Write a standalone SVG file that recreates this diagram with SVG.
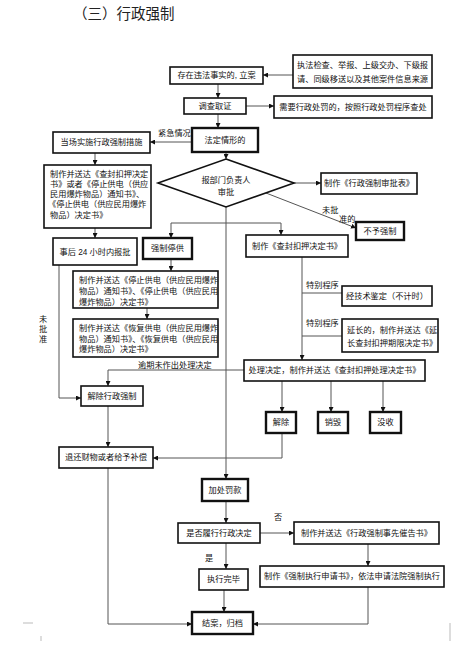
<svg xmlns="http://www.w3.org/2000/svg" width="453" height="658" viewBox="0 0 453 658">
<style>
text{font-family:"Liberation Sans","Noto Sans CJK SC",sans-serif;font-size:8.2px;fill:#111}
.t{font-size:14.5px;fill:#222}
.c{text-anchor:middle;dominant-baseline:central}
.l{dominant-baseline:central}
.b{fill:#fff;stroke:#111;stroke-width:1.6}
.k{fill:#fff;stroke:#111;stroke-width:2.4}
.e{fill:none;stroke:#555;stroke-width:1}
.a{marker-end:url(#ah)}
.m{stroke:#bbb;stroke-width:1}
</style>
<defs>
<marker id="ah" viewBox="0 0 6 6" refX="6" refY="3" markerWidth="5" markerHeight="5" markerUnits="userSpaceOnUse" orient="auto"><path d="M0,0 L6,3 L0,6 z" fill="#111"/></marker>
</defs>
<rect width="453" height="658" fill="#fff"/>
<text class="t" x="73" y="19">（三）行政强制</text>

<g id="connectors">
<path class="e a" d="M293,75 H263"/>
<path class="e a" d="M218,84 V98"/>
<path class="e a" d="M246,106 H274"/>
<path class="e a" d="M218,114 V128"/>
<path class="e a" d="M192,142 H150"/>
<path class="e a" d="M95,153 V165"/>
<path class="e a" d="M226,152 V159"/>
<path class="e a" d="M294,183 H321"/>
<path class="e a" d="M266,193 L356,228"/>
<path class="e a" d="M226,207 V479"/>
<path class="e" d="M171,223 H281"/>
<path class="e a" d="M171,223 V238"/>
<path class="e a" d="M281,223 V235"/>
<path class="e a" d="M95,228 V238"/>
<path class="e a" d="M171,259 V271"/>
<path class="e a" d="M147,308 V319"/>
<path class="e a" d="M59,265 V398 H81"/>
<path class="e a" d="M302,257 V360"/>
<path class="e" d="M302,293 H342"/>
<path class="e" d="M302,336 H342"/>
<path class="e a" d="M244,370 H108 V386"/>
<path class="e a" d="M282,381 V412"/>
<path class="e a" d="M331,381 V412"/>
<path class="e a" d="M383,381 V412"/>
<path class="e a" d="M282,433 V458 H153"/>
<path class="e a" d="M108,406 V447"/>
<path class="e a" d="M108,468 V624 H192"/>
<path class="e a" d="M226,501 V523"/>
<path class="e a" d="M260,533 H294"/>
<path class="e a" d="M226,543 V569"/>
<path class="e a" d="M368,544 V566"/>
<path class="e a" d="M224,590 V612"/>
<path class="e a" d="M368,587 V624 H253"/>
</g>

<g id="labels">
<text x="158" y="136">紧急情况</text>
<text x="322" y="213">未批</text>
<text x="339" y="222">准的</text>
<text class="c" x="43" y="319">未</text>
<text class="c" x="43" y="329">批</text>
<text class="c" x="43" y="339">准</text>
<text x="306" y="288">特别程序</text>
<text x="306" y="326">特别程序</text>
<text x="138" y="368">逾期未作出处理决定</text>
<text x="274" y="520">否</text>
<text x="205" y="561">是</text>
</g>

<g id="n-lian"><rect class="b" x="170" y="67" width="93" height="17"/><text class="c" x="216.5" y="75.5">存在违法事实的, 立案</text></g>
<g id="n-source"><rect class="b" x="293" y="55" width="139" height="33"/><text class="l" x="297" y="65">执法检查、举报、上级交办、下级报</text><text class="l" x="297" y="79">请、同级移送以及其他案件信息来源</text></g>
<g id="n-diaocha"><rect class="b" x="184" y="98" width="62" height="16"/><text class="c" x="215" y="106">调查取证</text></g>
<g id="n-chufa"><rect class="b" x="274" y="96" width="158" height="22"/><text class="c" x="353" y="107">需要行政处罚的，按照行政处罚程序查处</text></g>
<g id="n-fading"><rect class="k" x="192" y="128" width="66" height="24"/><text class="c" x="225" y="140">法定情形的</text></g>
<g id="n-dangchang"><rect class="b" x="53" y="132" width="97" height="21"/><text class="c" x="101.5" y="142.5">当场实施行政强制措施</text></g>
<g id="n-zhizuo1"><rect class="b" x="44" y="165" width="107" height="63"/>
<text class="l" x="50" y="174">制作并送达《查封扣押决定</text>
<text class="l" x="50" y="184">书》或者《停止供电（供应</text>
<text class="l" x="50" y="194">民用爆炸物品）通知书》、</text>
<text class="l" x="48" y="204">《停止供电（供应民用爆炸</text>
<text class="l" x="50" y="215">物品）决定书》</text></g>
<g id="n-shenpi"><path class="b" d="M226,159 L294,183 L226,207 L158,183 Z"/><text class="c" x="226" y="180">报部门负责人</text><text class="c" x="226" y="192">审批</text></g>
<g id="n-shenpibiao"><rect class="b" x="321" y="173" width="96" height="21"/><text class="c" x="369" y="183.5">制作《行政强制审批表》</text></g>
<g id="n-buyu"><rect class="k" x="356" y="222" width="48" height="18"/><text class="c" x="380" y="231">不予强制</text></g>
<g id="n-baopi"><rect class="b" x="53" y="238" width="84" height="27"/><text class="c" x="95" y="252">事后 24 小时内报批</text></g>
<g id="n-tinggong"><rect class="k" x="143" y="238" width="49" height="21"/><text class="c" x="167.5" y="248.5">强制停供</text></g>
<g id="n-chafeng"><rect class="b" x="246" y="235" width="102" height="22"/><text class="c" x="297" y="246">制作《查封扣押决定书》</text></g>
<g id="n-tingdian"><rect class="b" x="73" y="271" width="145" height="37"/>
<text class="l" x="79" y="280">制作并送达《停止供电（供应民用爆炸</text>
<text class="l" x="79" y="291">物品）通知书》、《停止供电（供应民用</text>
<text class="l" x="79" y="302">爆炸物品）决定书》</text></g>
<g id="n-huifu"><rect class="b" x="73" y="319" width="145" height="38"/>
<text class="l" x="79" y="328">制作并送达《恢复供电（供应民用爆炸</text>
<text class="l" x="79" y="339">物品）通知书》、《恢复供电（供应民用</text>
<text class="l" x="79" y="349">爆炸物品）决定书》</text></g>
<g id="n-jianding"><rect class="b" x="342" y="286" width="90" height="20"/><text class="c" x="387" y="296">经技术鉴定（不计时）</text></g>
<g id="n-yanchang"><rect class="b" x="342" y="319" width="96" height="33"/>
<text class="l" x="347" y="330">延长的，制作并送达《延</text>
<text class="l" x="347" y="343">长查封扣押期限决定书》</text></g>
<g id="n-chuli"><rect class="b" x="244" y="360" width="181" height="21"/><text class="c" x="334.5" y="370.5">处理决定，制作并送达《查封扣押处理决定书》</text></g>
<g id="n-jiechu2"><rect class="k" x="266" y="412" width="30" height="21"/><text class="c" x="281" y="422.5">解除</text></g>
<g id="n-xiaohui"><rect class="k" x="318" y="412" width="30" height="21"/><text class="c" x="333" y="422.5">销毁</text></g>
<g id="n-moshou"><rect class="k" x="370" y="412" width="31" height="21"/><text class="c" x="385.5" y="422.5">没收</text></g>
<g id="n-jiechu"><rect class="b" x="81" y="386" width="62" height="20"/><text class="c" x="112" y="396">解除行政强制</text></g>
<g id="n-tuihuan"><rect class="b" x="59" y="447" width="94" height="21"/><text class="c" x="106" y="457.5">退还财物或者给予补偿</text></g>
<g id="n-fakuan"><rect class="k" x="202" y="479" width="46" height="22"/><text class="c" x="225" y="490">加处罚款</text></g>
<g id="n-lvxing"><rect class="b" x="178" y="523" width="82" height="20"/><text class="c" x="219" y="533">是否履行行政决定</text></g>
<g id="n-cuigao"><rect class="b" x="294" y="522" width="145" height="22"/><text class="c" x="366.5" y="533">制作并送达《行政强制事先催告书》</text></g>
<g id="n-wanbi"><rect class="b" x="199" y="569" width="49" height="21"/><text class="c" x="223.5" y="579.5">执行完毕</text></g>
<g id="n-shenqing"><rect class="b" x="260" y="566" width="184" height="21"/><text class="c" x="352" y="576.5">制作《强制执行申请书》，依法申请法院强制执行</text></g>
<g id="n-jiean"><rect class="k" x="192" y="612" width="61" height="22"/><text class="c" x="222.5" y="623">结案，归档</text></g>

<g id="marks">
<path class="m" d="M23,623 H33 M41,636 V641 M450,623 V641"/>
</g>
</svg>
